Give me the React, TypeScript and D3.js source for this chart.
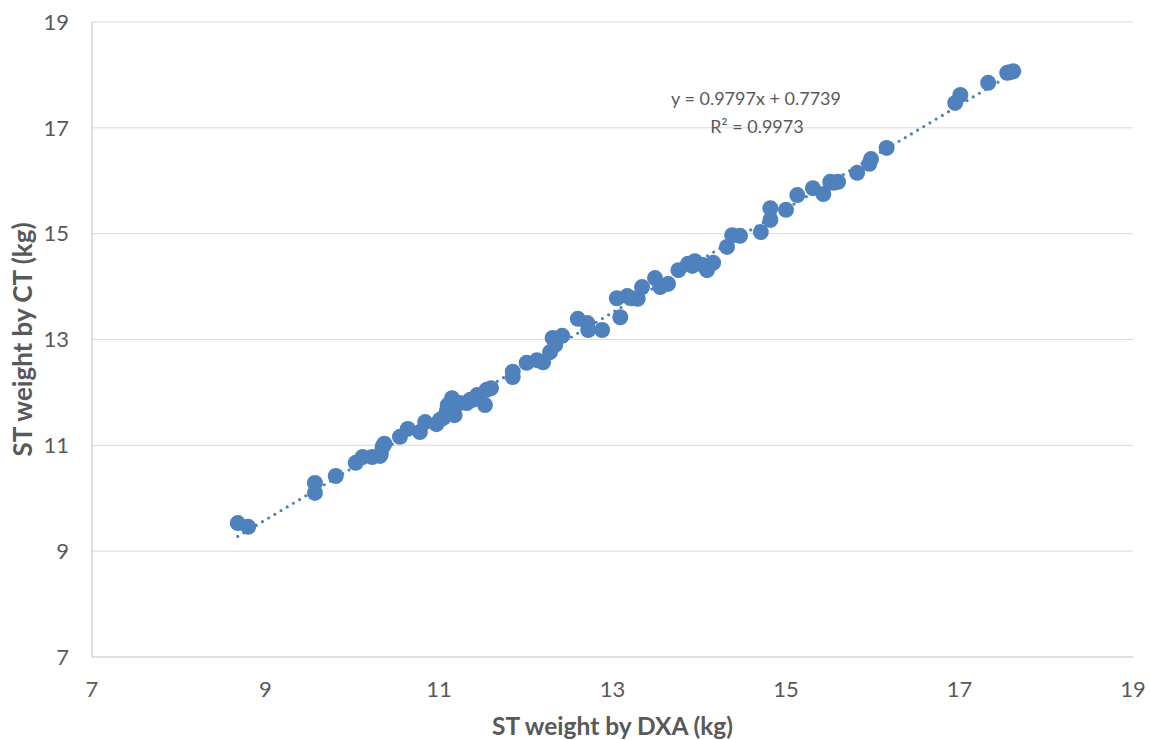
import * as d3 from "d3";
import React from "react";

// DXA vs CT soft tissue weight (kg)
const dxa = [
  8.68, 8.8, 9.57, 9.57, 9.81, 10.04, 10.12, 10.23, 10.32, 10.33, 10.35, 10.37,
  10.55, 10.64, 10.78, 10.84, 10.97, 11.01, 11.05, 11.09, 11.1, 11.15, 11.18,
  11.24, 11.32, 11.36, 11.39, 11.44, 11.53, 11.55, 11.6, 11.85, 11.85, 12.01,
  12.13, 12.2, 12.28, 12.31, 12.34, 12.42, 12.6, 12.71, 12.72, 12.88, 13.05,
  13.09, 13.17, 13.22, 13.29, 13.34, 13.49, 13.55, 13.64, 13.76, 13.87, 13.92,
  13.95, 14.04, 14.09, 14.16, 14.32, 14.38, 14.47, 14.71, 14.82, 14.82, 15.0,
  15.13, 15.31, 15.43, 15.51, 15.55, 15.6, 15.82, 15.96, 15.98, 16.16, 16.95,
  17.01, 17.33, 17.55, 17.58, 17.62,
];
const ct = [
  9.53, 9.46, 10.29, 10.1, 10.42, 10.67, 10.78, 10.78, 10.8, 10.84, 10.97, 11.03,
  11.16, 11.31, 11.25, 11.44, 11.4, 11.48, 11.52, 11.65, 11.76, 11.89, 11.57,
  11.8, 11.8, 11.86, 11.86, 11.95, 11.76, 12.05, 12.08, 12.39, 12.29, 12.56,
  12.61, 12.57, 12.76, 13.03, 12.9, 13.07, 13.39, 13.31, 13.18, 13.18, 13.78,
  13.42, 13.82, 13.78, 13.77, 13.99, 14.16, 13.99, 14.05, 14.31, 14.43, 14.39,
  14.48, 14.41, 14.31, 14.45, 14.75, 14.97, 14.96, 15.03, 15.26, 15.48, 15.45,
  15.73, 15.86, 15.75, 15.98, 15.96, 15.98, 16.15, 16.32, 16.41, 16.62, 17.47,
  17.62, 17.85, 18.04, 18.05, 18.07,
];
const ticks = [7, 9, 11, 13, 15, 17, 19];
const slope = 0.9797;
const intercept = 0.7739;
const r2 = 0.9973;

const WIDTH = 1150;
const HEIGHT = 740;
const FONT = "Lato, 'Noto Sans', sans-serif";
const BLUE = "#4f81bd";
const GREY = "#595959";

export default function App() {
  const margin = { top: 22, right: 17, bottom: 83, left: 92 };
  const x = d3.scaleLinear().domain([7, 19]).range([margin.left, WIDTH - margin.right]);
  const y = d3.scaleLinear().domain([7, 19]).range([HEIGHT - margin.bottom, margin.top]);

  const points = dxa.map((d, i) => ({ x: d, y: ct[i] }));
  const [x0, x1] = d3.extent(dxa) as [number, number];
  const trend = d3
    .line<number>()
    .x((d) => x(d))
    .y((d) => y(slope * d + intercept))([x0, x1]);

  const fmt = d3.format(".4f");

  return (
    <svg width={WIDTH} height={HEIGHT} style={{ display: "block" }} fontFamily={FONT}>
      <style>{`body{margin:0}`}</style>
      <rect width={WIDTH} height={HEIGHT} fill="#fff" />
      {/* gridlines */}
      {ticks.slice(1).map((t) => (
        <line key={t} x1={x(7)} x2={x(19)} y1={y(t)} y2={y(t)} stroke="#d9d9d9" strokeWidth={1} />
      ))}
      <line x1={x(7)} x2={x(19)} y1={y(7)} y2={y(7)} stroke="#bfbfbf" strokeWidth={1} />
      <line x1={x(7)} x2={x(7)} y1={y(7)} y2={y(19)} stroke="#bfbfbf" strokeWidth={1} />

      {/* tick labels */}
      {ticks.map((t) => (
        <text key={"y" + t} x={x(7) - 23} y={y(t)} dy="0.35em" textAnchor="end" fontSize={22} fill={GREY}>
          {t}
        </text>
      ))}
      {ticks.map((t) => (
        <text key={"x" + t} x={x(t)} y={y(7) + 40} textAnchor="middle" fontSize={22} fill={GREY}>
          {t}
        </text>
      ))}

      {/* markers */}
      {points.map((p, i) => (
        <circle key={i} cx={x(p.x)} cy={y(p.y)} r={8} fill={BLUE} />
      ))}

      {/* dotted linear trendline */}
      <path
        d={trend ?? ""}
        fill="none"
        stroke={BLUE}
        strokeWidth={3.2}
        strokeLinecap="round"
        strokeDasharray="0 7.2"
      />

      <text x={756} y={105} textAnchor="middle" fontSize={18} fill={GREY}>
        {`y = ${fmt(slope)}x + ${fmt(intercept)}`}
      </text>
      <text x={757} y={133} textAnchor="middle" fontSize={18} fill={GREY}>
        {`R² = ${fmt(r2)}`}
      </text>

      {/* axis titles */}
      <text x={(x(7) + x(19)) / 2} y={735} textAnchor="middle" fontSize={24.5} fontWeight="bold" fill={GREY}>
        ST weight by DXA (kg)
      </text>
      <text
        transform={`translate(32,${(y(7) + y(19)) / 2}) rotate(-90)`}
        textAnchor="middle"
        fontSize={26}
        fontWeight="bold"
        fill={GREY}
      >
        ST weight by CT (kg)
      </text>
    </svg>
  );
}
